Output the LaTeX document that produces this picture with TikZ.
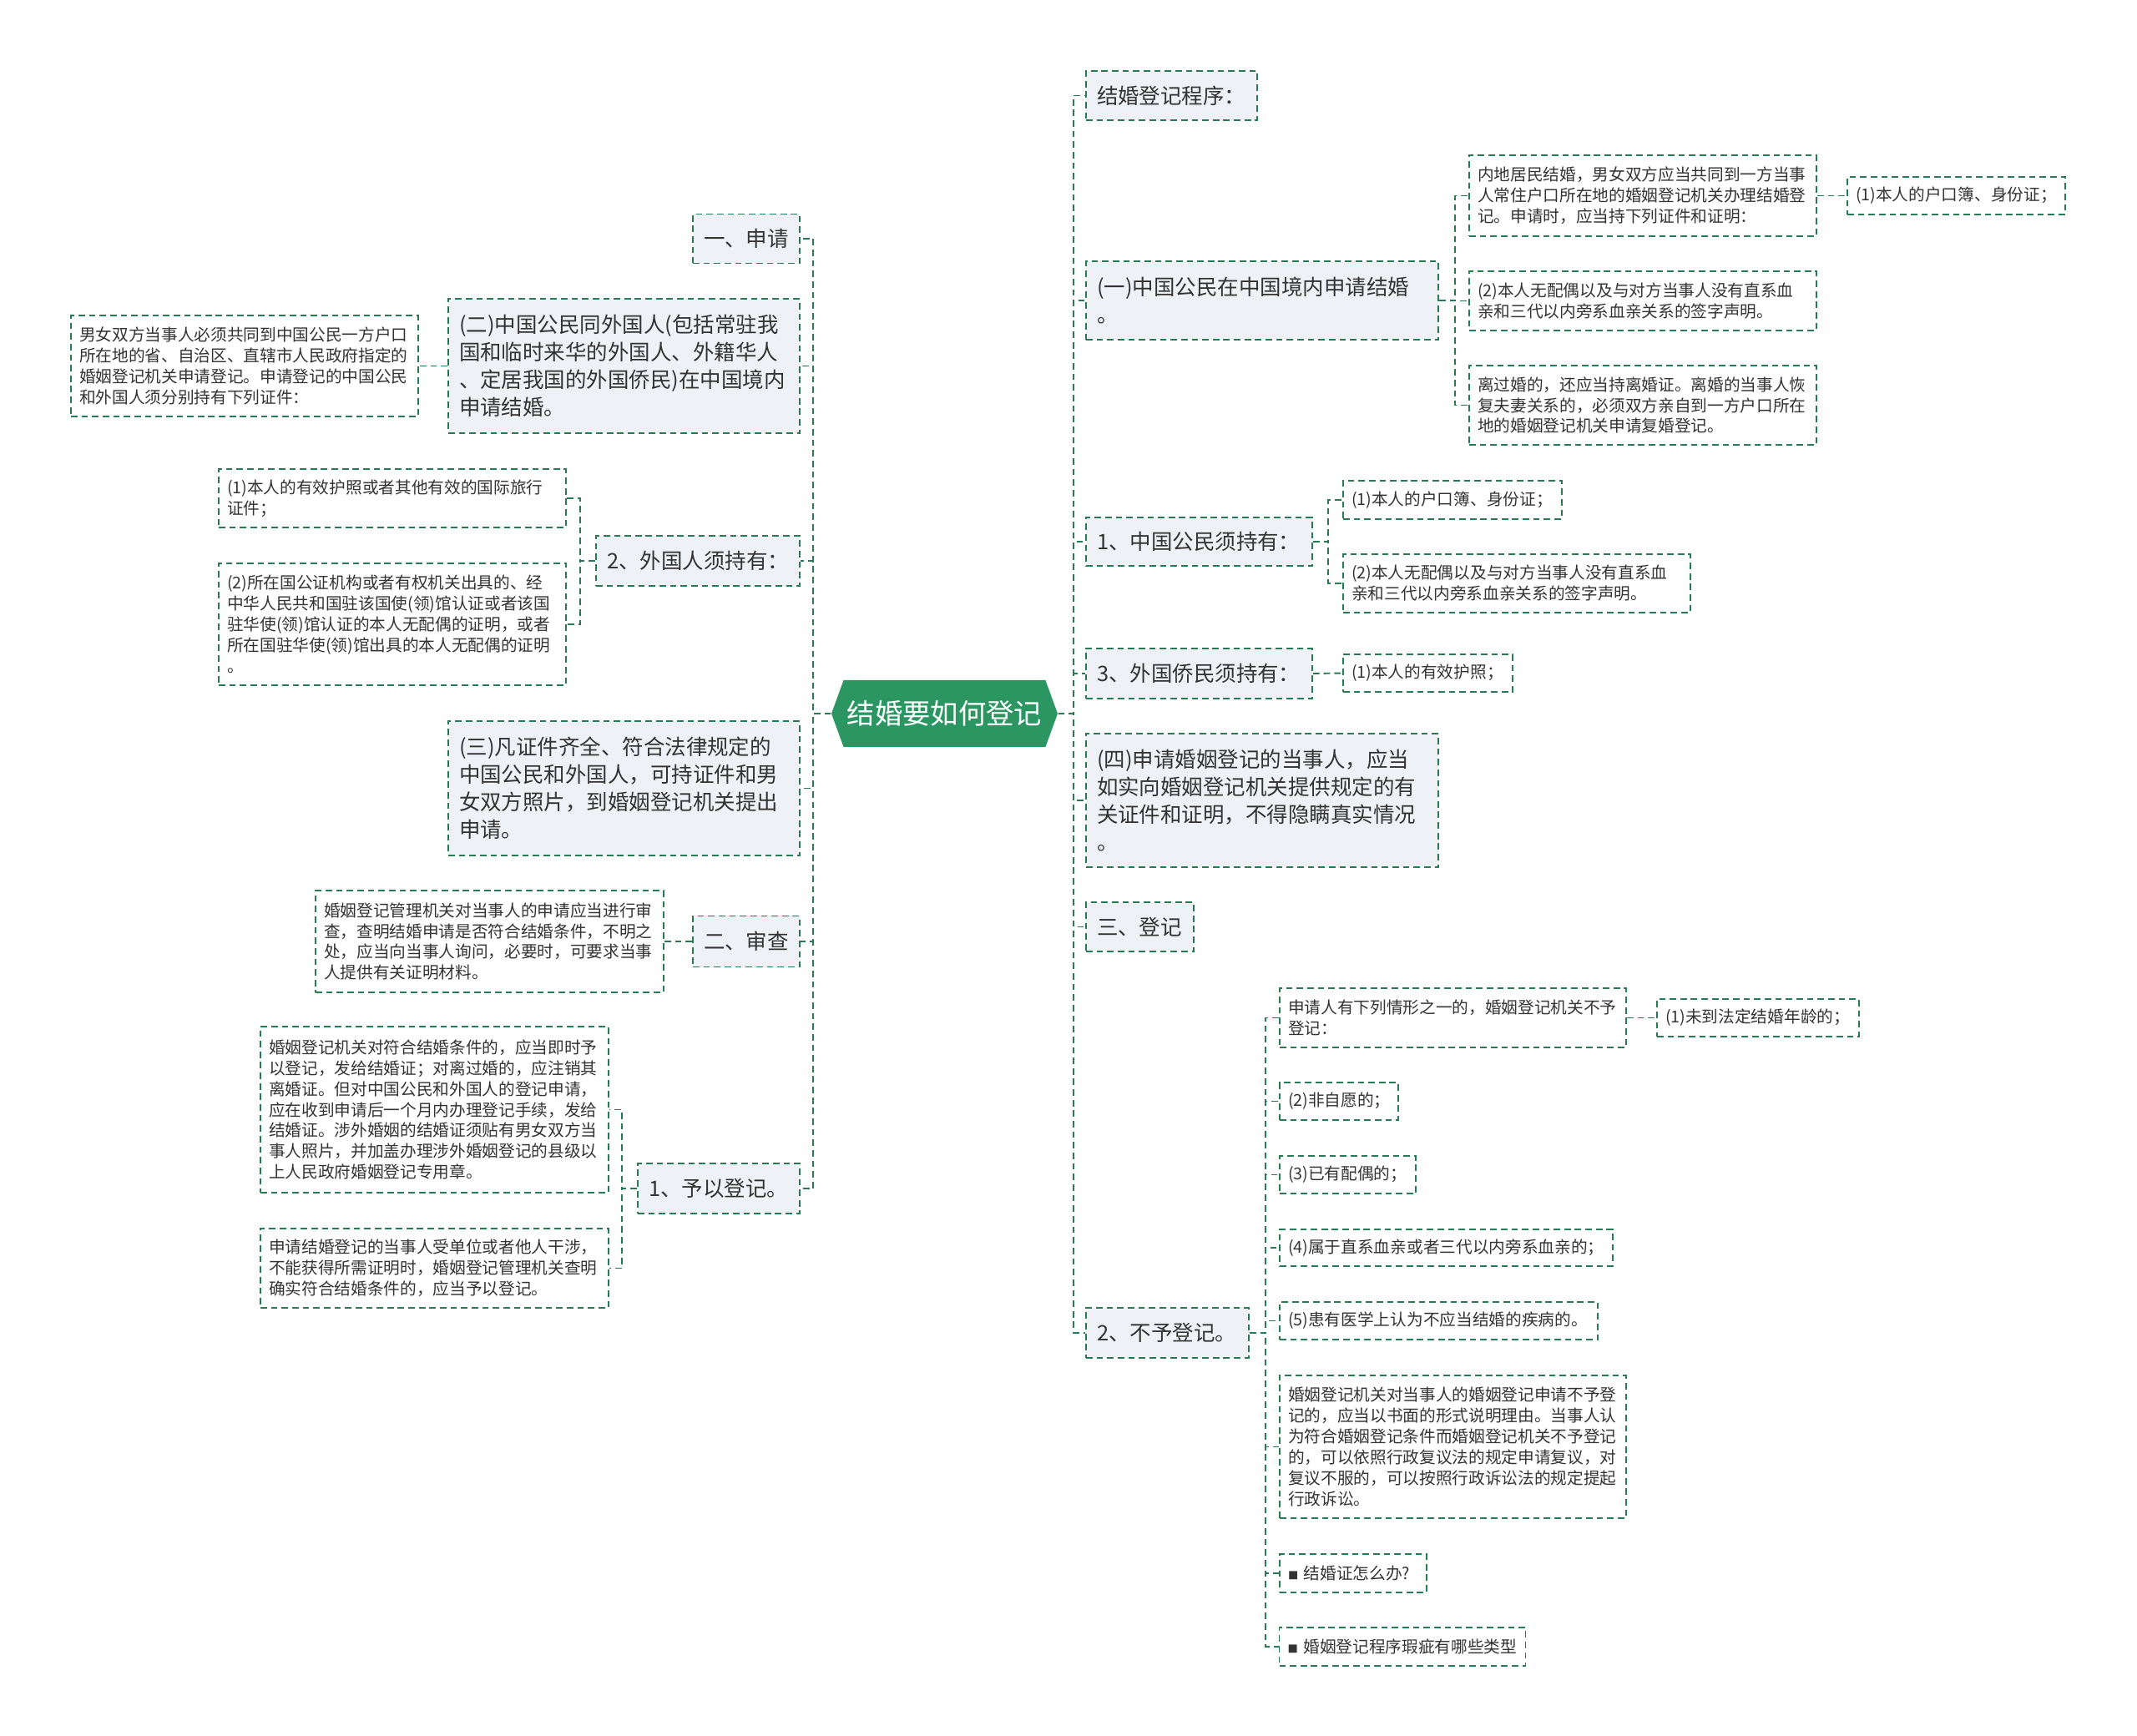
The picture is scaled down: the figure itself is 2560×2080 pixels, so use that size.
\documentclass[tikz,border=0pt]{standalone}
\usepackage{fontspec}
\setmainfont{Noto Sans CJK SC}
\usepackage{tikz}
\usetikzlibrary{shapes.symbols}
\definecolor{hubgreen}{RGB}{44,150,98}
\definecolor{linkgreen}{RGB}{40,122,82}
\definecolor{topicfill}{RGB}{238,241,245}
\definecolor{inkgray}{RGB}{51,51,51}
\tikzset{
  hub/.style={signal,signal to=west and east,signal pointer angle=140,fill=hubgreen,text=white,
    font=\fontsize{9.5pt}{11pt}\selectfont,minimum width=27.1mm,minimum height=8mm,inner sep=0pt},
  topic/.style={draw=linkgreen,fill=topicfill,line width=0.55pt,dash pattern=on 2.2pt off 1.4pt,
    text=inkgray,align=left,inner xsep=1.3mm,inner ysep=0.5mm,font=\fontsize{7.25pt}{9.4pt}\selectfont},
  leaf/.style={draw=linkgreen,fill=white,line width=0.55pt,dash pattern=on 2.2pt off 1.4pt,
    text=inkgray,align=left,inner xsep=1mm,inner ysep=0.5mm,font=\fontsize{5.6pt}{7.1pt}\selectfont},
  link/.style={draw=linkgreen,line width=0.55pt,dash pattern=on 2.2pt off 1.4pt},
}

\begin{document}
\begin{tikzpicture}[x=0.1mm,y=-0.1mm]
  \useasboundingbox (0,0) rectangle (2560,2080);
  \node[hub] (root) at (1131.5,855) {结婚要如何登记};
  % left branch
  \node[topic,text width=10.2mm,minimum height=5.9mm] (a1) at (894,286) {一、申请};
  \node[topic,text width=39.5mm,minimum height=16.1mm] (a2) at (747.5,438.5) {(二)中国公民同外国人(包括常驻我\\国和临时来华的外国人、外籍华人\\、定居我国的外国侨民)在中国境内\\申请结婚。};
  \node[topic,text width=21.8mm,minimum height=6mm] (a3) at (836,672) {2、外国人须持有：};
  \node[topic,text width=39.5mm,minimum height=16.1mm] (a4) at (747.5,944.5) {(三)凡证件齐全、符合法律规定的\\中国公民和外国人，可持证件和男\\女双方照片，到婚姻登记机关提出\\申请。};
  \node[topic,text width=10.2mm,minimum height=6.1mm] (a5) at (894,1128) {二、审查};
  \node[topic,text width=16.8mm,minimum height=6mm] (a6) at (861,1424) {1、予以登记。};
  \node[leaf,text width=39.6mm,minimum height=12.1mm] (b1) at (293,438.5) {男女双方当事人必须共同到中国公民一方户口\\所在地的省、自治区、直辖市人民政府指定的\\婚姻登记机关申请登记。申请登记的中国公民\\和外国人须分别持有下列证件：};
  \node[leaf,text width=39.6mm,minimum height=7mm] (b2) at (470,597) {(1)本人的有效护照或者其他有效的国际旅行\\证件；};
  \node[leaf,text width=39.6mm,minimum height=14.6mm] (b3) at (470,748) {(2)所在国公证机构或者有权机关出具的、经\\中华人民共和国驻该国使(领)馆认证或者该国\\驻华使(领)馆认证的本人无配偶的证明，或者\\所在国驻华使(领)馆出具的本人无配偶的证明\\。};
  \node[leaf,text width=39.7mm,minimum height=12.2mm] (b4) at (586.5,1128) {婚姻登记管理机关对当事人的申请应当进行审\\查，查明结婚申请是否符合结婚条件，不明之\\处，应当向当事人询问，必要时，可要求当事\\人提供有关证明材料。};
  \node[leaf,text width=39.7mm,minimum height=19.9mm] (b5) at (520.5,1329.5) {婚姻登记机关对符合结婚条件的，应当即时予\\以登记，发给结婚证；对离过婚的，应注销其\\离婚证。但对中国公民和外国人的登记申请，\\应在收到申请后一个月内办理登记手续，发给\\结婚证。涉外婚姻的结婚证须贴有男女双方当\\事人照片，并加盖办理涉外婚姻登记的县级以\\上人民政府婚姻登记专用章。};
  \node[leaf,text width=39.7mm,minimum height=9.5mm] (b6) at (520.5,1519.5) {申请结婚登记的当事人受单位或者他人干涉，\\不能获得所需证明时，婚姻登记管理机关查明\\确实符合结婚条件的，应当予以登记。};
  % right branch
  \node[topic,text width=17.9mm,minimum height=5.9mm] (c1) at (1403.5,114.5) {结婚登记程序：};
  \node[topic,text width=39.6mm,minimum height=9.4mm] (c2) at (1512,360) {(一)中国公民在中国境内申请结婚\\。};
  \node[topic,text width=24.5mm,minimum height=5.8mm] (c3) at (1436.5,649) {1、中国公民须持有：};
  \node[topic,text width=24.5mm,minimum height=6mm] (c4) at (1436.5,807) {3、外国侨民须持有：};
  \node[topic,text width=39.6mm,minimum height=16mm] (c5) at (1512,959) {(四)申请婚姻登记的当事人，应当\\如实向婚姻登记机关提供规定的有\\关证件和证明，不得隐瞒真实情况\\。};
  \node[topic,text width=10.3mm,minimum height=5.9mm] (c6) at (1365.5,1110.5) {三、登记};
  \node[topic,text width=16.9mm,minimum height=6mm] (c7) at (1398.5,1597) {2、不予登记。};
  \node[leaf,text width=39.6mm,minimum height=9.7mm] (d1) at (1968,234.5) {内地居民结婚，男女双方应当共同到一方当事\\人常住户口所在地的婚姻登记机关办理结婚登\\记。申请时，应当持下列证件和证明：};
  \node[leaf,text width=24.1mm,minimum height=4.5mm] (e1) at (2343.5,234.5) {(1)本人的户口簿、身份证；};
  \node[leaf,text width=39.6mm,minimum height=7.1mm] (d2) at (1968,360.5) {(2)本人无配偶以及与对方当事人没有直系血\\亲和三代以内旁系血亲关系的签字声明。};
  \node[leaf,text width=39.6mm,minimum height=9.5mm] (d3) at (1968,485.5) {离过婚的，还应当持离婚证。离婚的当事人恢\\复夫妻关系的，必须双方亲自到一方户口所在\\地的婚姻登记机关申请复婚登记。};
  \node[leaf,text width=24.2mm,minimum height=4.6mm] (d4) at (1740,599) {(1)本人的户口簿、身份证；};
  \node[leaf,text width=39.6mm,minimum height=7mm] (d5) at (1817,699) {(2)本人无配偶以及与对方当事人没有直系血\\亲和三代以内旁系血亲关系的签字声明。};
  \node[leaf,text width=18.3mm,minimum height=4.5mm] (d6) at (1710.5,806.5) {(1)本人的有效护照；};
  \node[leaf,text width=39.5mm,minimum height=7.1mm] (d7) at (1740.5,1219.5) {申请人有下列情形之一的，婚姻登记机关不予\\登记：};
  \node[leaf,text width=22.2mm,minimum height=4.5mm] (e2) at (2106,1219.5) {(1)未到法定结婚年龄的；};
  \node[leaf,text width=12.2mm,minimum height=4.5mm] (d8) at (1604,1319.5) {(2)非自愿的；};
  \node[leaf,text width=14.3mm,minimum height=4.5mm] (d9) at (1614.5,1407.5) {(3)已有配偶的；};
  \node[leaf,text width=37.9mm,minimum height=4.4mm] (d10) at (1732.5,1495) {(4)属于直系血亲或者三代以内旁系血亲的；};
  \node[leaf,text width=36.1mm,minimum height=4.5mm] (d11) at (1723.5,1582.5) {(5)患有医学上认为不应当结婚的疾病的。};
  \node[leaf,text width=39.5mm,minimum height=17.1mm] (d12) at (1740.5,1733.5) {婚姻登记机关对当事人的婚姻登记申请不予登\\记的，应当以书面的形式说明理由。当事人认\\为符合婚姻登记条件而婚姻登记机关不予登记\\的，可以依照行政复议法的规定申请复议，对\\复议不服的，可以按照行政诉讼法的规定提起\\行政诉讼。};
  \node[leaf,text width=15.6mm,minimum height=4.6mm] (d13) at (1621,1885) {{\fontsize{3.5pt}{4pt}\selectfont ■} 结婚证怎么办?};
  \node[leaf,text width=27.5mm,minimum height=4.6mm] (d14) at (1680,1973) {{\fontsize{3.5pt}{4pt}\selectfont ■} 婚姻登记程序瑕疵有哪些类型};
  % connectors
  \foreach \n in {a1,a2,a3,a4,a5,a6}
    \draw[link] (root.west) -- ++(-21,0) |- (\n.east);
  \draw[link] (a2.west) -- (b1.east);
  \foreach \n in {b2,b3}
    \draw[link] (a3.west) -- ++(-18,0) |- (\n.east);
  \draw[link] (a5.west) -- (b4.east);
  \foreach \n in {b5,b6}
    \draw[link] (a6.west) -- ++(-18,0) |- (\n.east);
  \foreach \n in {c1,c2,c3,c4,c5,c6,c7}
    \draw[link] (root.east) -- ++(18,0) |- (\n.west);
  \foreach \n in {d1,d2,d3}
    \draw[link] (c2.east) -- ++(19,0) |- (\n.west);
  \draw[link] (d1.east) -- (e1.west);
  \foreach \n in {d4,d5}
    \draw[link] (c3.east) -- ++(18,0) |- (\n.west);
  \draw[link] (c4.east) -- (d6.west);
  \foreach \n in {d7,d8,d9,d10,d11,d12,d13,d14}
    \draw[link] (c7.east) -- ++(19,0) |- (\n.west);
  \draw[link] (d7.east) -- (e2.west);
\end{tikzpicture}
\end{document}
